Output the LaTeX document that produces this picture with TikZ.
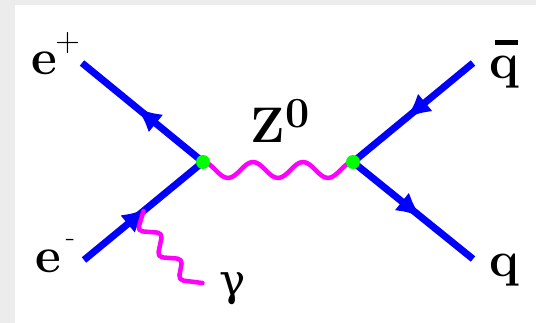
\documentclass[tikz,border=0pt]{standalone}
\usepackage{fontspec}
\newfontfamily\dser{DejaVu Serif}
\usetikzlibrary{decorations.markings,arrows.meta,calc}
\definecolor{bggray}{RGB}{236,236,236}
\definecolor{fblue}{RGB}{0,0,255}
\definecolor{bmag}{RGB}{255,0,255}
\definecolor{vgreen}{RGB}{0,255,0}
\newcommand\supplus{\fontsize{34}{34}\mdseries\selectfont}
\newcommand\supminus{\fontsize{30}{30}\mdseries\selectfont}
\newcommand\supzero{\fontsize{43}{43}\bfseries\selectfont}
\tikzset{
  lbl/.style={inner sep=0pt, anchor=base west, font=\fontsize{50}{50}\selectfont\bfseries},
  glbl/.style={inner sep=0pt, anchor=base west, font=\dser\fontsize{44}{44}\selectfont},
  fermion/.style={draw=fblue, line width=7pt,
    postaction={decorate, decoration={markings,
      mark=at position #1 with {\arrow[fblue]{Latex[length=25pt,width=23pt]}}}}},
  boson/.style={draw=bmag, line width=4.5pt, line cap=round, line join=round},
  vertexdot/.style={fill=vgreen}
}
\begin{document}
\begin{tikzpicture}[x=1pt,y=-1pt]
  \fill[bggray] (0,0) rectangle (536,323);
  \fill[white] (15,5) rectangle (536,323);
  \useasboundingbox (0,0) rectangle (536,323);

  \coordinate (v1) at (203,162);
  \coordinate (v2) at (353,162);
  \coordinate (ep) at (82,63);
  \coordinate (em) at (84,260);
  \coordinate (qb) at (473,63);
  \coordinate (q)  at (473,259);

  % fermion lines
  \draw[fermion=0.55] (v1) -- (ep);
  \draw[fermion=0.53] (em) -- (v1);
  \draw[fermion=0.56] (qb) -- (v2);
  \draw[fermion=0.57] (v2) -- (q);

  % Z0 propagator
  \draw[boson] (v1) \foreach \i in {1,2,3} {
      cos ++(12.5,8) sin ++(12.5,8) cos ++(12.5,-8) sin ++(12.5,-8) };

  % radiated photon
  \coordinate (pg) at ($(em)!0.5!(v1)$);
  \draw[boson, rounded corners=5pt] (pg) -- ++(-6,20) -- ++(25,2) -- ++(-5,24)
      -- ++(25,2) -- ++(-4,21) -- ++(24,3) coordinate (gend);

  % vertices
  \fill[vertexdot] (v1) circle (7);
  \fill[vertexdot] (v2) circle (7);

  % labels
  \node[lbl] (lep) at (31,75) {e\hspace{-1.5pt}\raisebox{23pt}{\supplus +}};
  \node[lbl] (lem) at (35,273) {e\hspace{5pt}\raisebox{26pt}{\supminus -}};
  \node[lbl] (lz)  at (250,143) {Z\hspace{1pt}\raisebox{15pt}{\supzero 0}};
  \node[glbl] (lg) at (219,296) {γ};
  \node[lbl] (lqb) at (489,79) {\makebox[0pt][l]{\hspace{0.12em}\raisebox{0.67em}{\rule{0.45em}{0.1em}}}q};
  \node[lbl] (lq)  at (489,277) {q};
\end{tikzpicture}
\end{document}
